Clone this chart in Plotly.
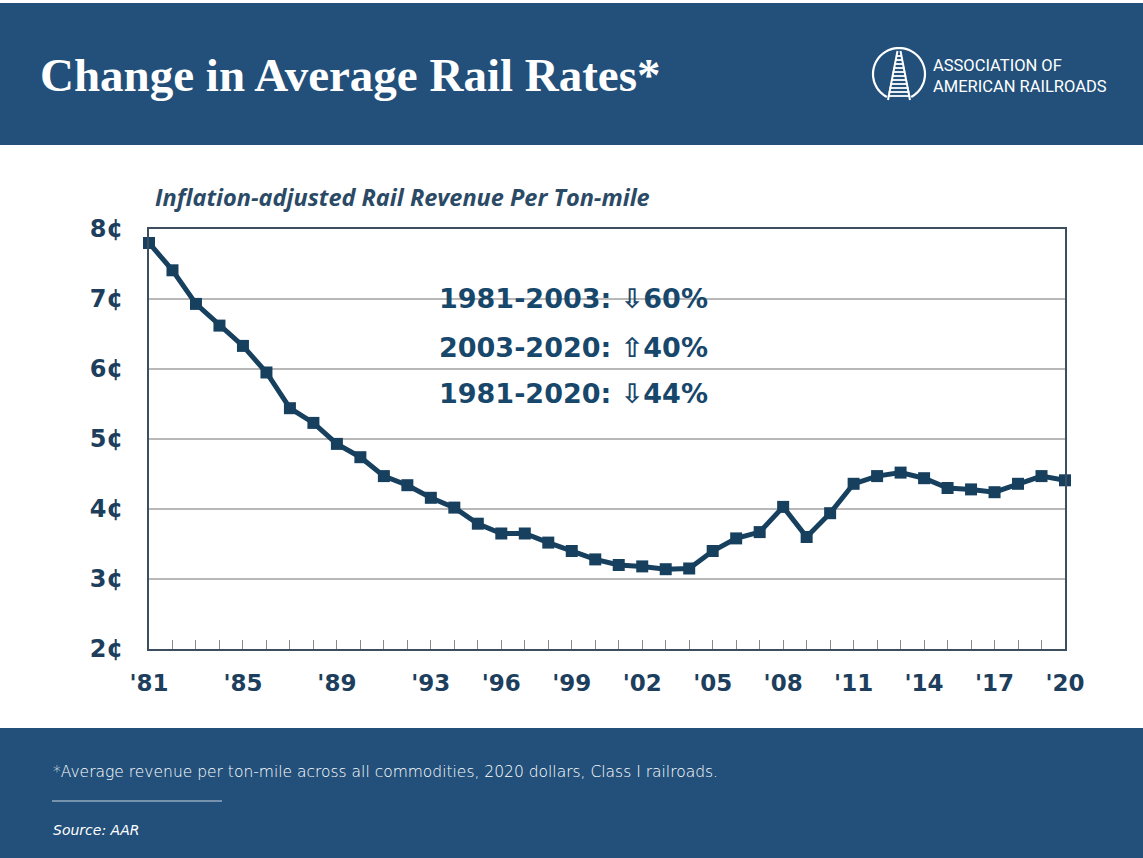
import math
import plotly.graph_objects as go

# ---------------- data ----------------
years = [1981, 1982, 1983, 1984, 1985, 1986, 1987, 1988, 1989, 1990,
         1991, 1992, 1993, 1994, 1995, 1996, 1997, 1998, 1999, 2000,
         2001, 2002, 2003, 2004, 2005, 2006, 2007, 2008, 2009, 2010,
         2011, 2012, 2013, 2014, 2015, 2016, 2017, 2018, 2019, 2020]
rates = [7.80, 7.41, 6.93, 6.62, 6.33, 5.95, 5.44, 5.23, 4.93, 4.74,
         4.47, 4.34, 4.16, 4.02, 3.79, 3.65, 3.65, 3.52, 3.40, 3.28,
         3.20, 3.18, 3.14, 3.15, 3.40, 3.58, 3.67, 4.03, 3.60, 3.94,
         4.36, 4.47, 4.52, 4.44, 4.30, 4.28, 4.24, 4.36, 4.47, 4.41]
label_years = [1981, 1985, 1989, 1993, 1996, 1999, 2002, 2005, 2008, 2011, 2014, 2017, 2020]
y_ticks = [2, 3, 4, 5, 6, 7, 8]
y_labels = ["2¢", "3¢", "4¢", "5¢", "6¢", "7¢", "8¢"]
summary_lines = ["1981-2003: ⇩60%", "2003-2020: ⇧40%", "1981-2020: ⇩44%"]

title_text = "Change in Average Rail Rates*"
subtitle_text = "Inflation-adjusted Rail Revenue Per Ton-mile"
footnote_text = "*Average revenue per ton-mile across all commodities, 2020 dollars, Class I railroads."
source_text = "Source: AAR"
logo_lines = ["ASSOCIATION OF", "AMERICAN RAILROADS"]

# ---------------- layout geometry ----------------
W, H = 1143, 858
ML, MR, MT, MB = 149, 78, 229, 209
PW, PH = W - ML - MR, H - MT - MB

def px(x):
    return (x - ML) / PW

def py(y):
    return 1 - (y - MT) / PH

BAND = "#22507a"
NAVY = "#17405f"
TXT = "#1d3f5d"

x_ticktext = [("'" + str(y)[2:]) if y in label_years else "" for y in years]

fig = go.Figure()
fig.add_trace(go.Scatter(
    x=years, y=rates, mode="lines+markers",
    line=dict(color=NAVY, width=5),
    marker=dict(symbol="square", size=12, color=NAVY),
    cliponaxis=False, showlegend=False, hoverinfo="x+y",
))

shapes = []
# header and footer bands
shapes.append(dict(type="rect", xref="paper", yref="paper", layer="below",
                   x0=px(-5), x1=px(W + 5), y0=py(145), y1=py(3),
                   fillcolor=BAND, line=dict(width=0)))
shapes.append(dict(type="rect", xref="paper", yref="paper", layer="below",
                   x0=px(-5), x1=px(W + 5), y0=py(H + 5), y1=py(728),
                   fillcolor=BAND, line=dict(width=0)))
# white box behind summary text (hides gridlines)
shapes.append(dict(type="rect", xref="paper", yref="paper", layer="between",
                   x0=px(396), x1=px(750), y0=py(416), y1=py(262),
                   fillcolor="white", line=dict(width=0)))
# footer rule
shapes.append(dict(type="line", xref="paper", yref="paper",
                   x0=px(52), x1=px(222), y0=py(801), y1=py(801),
                   line=dict(color="#c9d3de", width=1)))

# logo: open circle
cx, cy, r = 899, 74, 26
pts = []
for k in range(0, 61):
    a = math.radians(118 + (422 - 118) * k / 60)
    pts.append((px(cx + r * math.cos(a)), py(cy + r * math.sin(a))))
path = "M " + " L ".join(f"{x:.5f},{y:.5f}" for x, y in pts)
shapes.append(dict(type="path", xref="paper", yref="paper", path=path,
                   line=dict(color="white", width=2.2)))
# logo: track rails
for side in (-1, 1):
    shapes.append(dict(type="line", xref="paper", yref="paper",
                       x0=px(cx + side * 1.5), y0=py(51), x1=px(cx + side * 11), y1=py(100),
                       line=dict(color="white", width=2)))
for yy in range(56, 98, 4):
    hw = 2 + (yy - 51) / 49 * 10
    shapes.append(dict(type="line", xref="paper", yref="paper",
                       x0=px(cx - hw), y0=py(yy), x1=px(cx + hw), y1=py(yy),
                       line=dict(color="white", width=1.8)))

annotations = []
annotations.append(dict(text=f"<b>{title_text}</b>", xref="paper", yref="paper",
                        x=px(38), y=py(75), xanchor="left", yanchor="middle", showarrow=False,
                        font=dict(family="Liberation Serif, DejaVu Serif, serif", size=47, color="white")))
annotations.append(dict(text="<br>".join(logo_lines), xref="paper", yref="paper",
                        x=px(931), y=py(76), xanchor="left", yanchor="middle", align="left",
                        showarrow=False,
                        font=dict(family="Liberation Sans Narrow, Roboto, sans-serif", size=16.5, color="white")))
annotations.append(dict(text=f"<b><i>{subtitle_text}</i></b>", xref="paper", yref="paper",
                        x=px(153), y=py(197), xanchor="left", yanchor="middle", showarrow=False,
                        font=dict(family="Open Sans, sans-serif", size=23.5, color="#2b4a66")))
line_y = [298, 347, 393]
for t, yy in zip(summary_lines, line_y):
    annotations.append(dict(text=f"<b>{t}</b>", xref="paper", yref="paper",
                            x=px(573), y=py(yy), xanchor="center", yanchor="middle", showarrow=False,
                            font=dict(family="DejaVu Sans, sans-serif", size=27, color="#17476b")))
annotations.append(dict(text=footnote_text, xref="paper", yref="paper",
                        x=px(51), y=py(772), xanchor="left", yanchor="middle", showarrow=False,
                        font=dict(family="DejaVu Sans, sans-serif", size=15.5, color="white", weight=300)))
annotations.append(dict(text=f"<i>{source_text}</i>", xref="paper", yref="paper",
                        x=px(51), y=py(830), xanchor="left", yanchor="middle", showarrow=False,
                        font=dict(family="DejaVu Sans, sans-serif", size=14, color="white", weight=300)))

fig.update_layout(
    width=W, height=H,
    margin=dict(l=ML, r=MR, t=MT, b=MB, pad=0),
    paper_bgcolor="white", plot_bgcolor="white",
    shapes=shapes, annotations=annotations,
    xaxis=dict(range=[1981, 2020], tickvals=years, ticktext=x_ticktext,
               ticks="inside", ticklen=9, tickwidth=1.2, tickcolor="#8a8a8a",
               showline=True, linecolor="#3d4f5f", linewidth=2, mirror=True,
               showgrid=False, zeroline=False, ticklabelstandoff=12,
               tickfont=dict(family="DejaVu Sans, sans-serif", size=23, color=TXT, weight=700)),
    yaxis=dict(range=[2, 8], tickvals=y_ticks, ticktext=y_labels,
               showline=True, linecolor="#3d4f5f", linewidth=2, mirror=True,
               showgrid=True, gridcolor="#b8b8b8", gridwidth=1.5, zeroline=False,
               ticks="", ticklabelstandoff=19,
               tickfont=dict(family="DejaVu Sans, sans-serif", size=24, color=TXT, weight=700)),
)

fig.write_html("out.html", config={"displayModeBar": False},
               post_script="document.body.style.margin='0';document.body.style.overflow='hidden';")
